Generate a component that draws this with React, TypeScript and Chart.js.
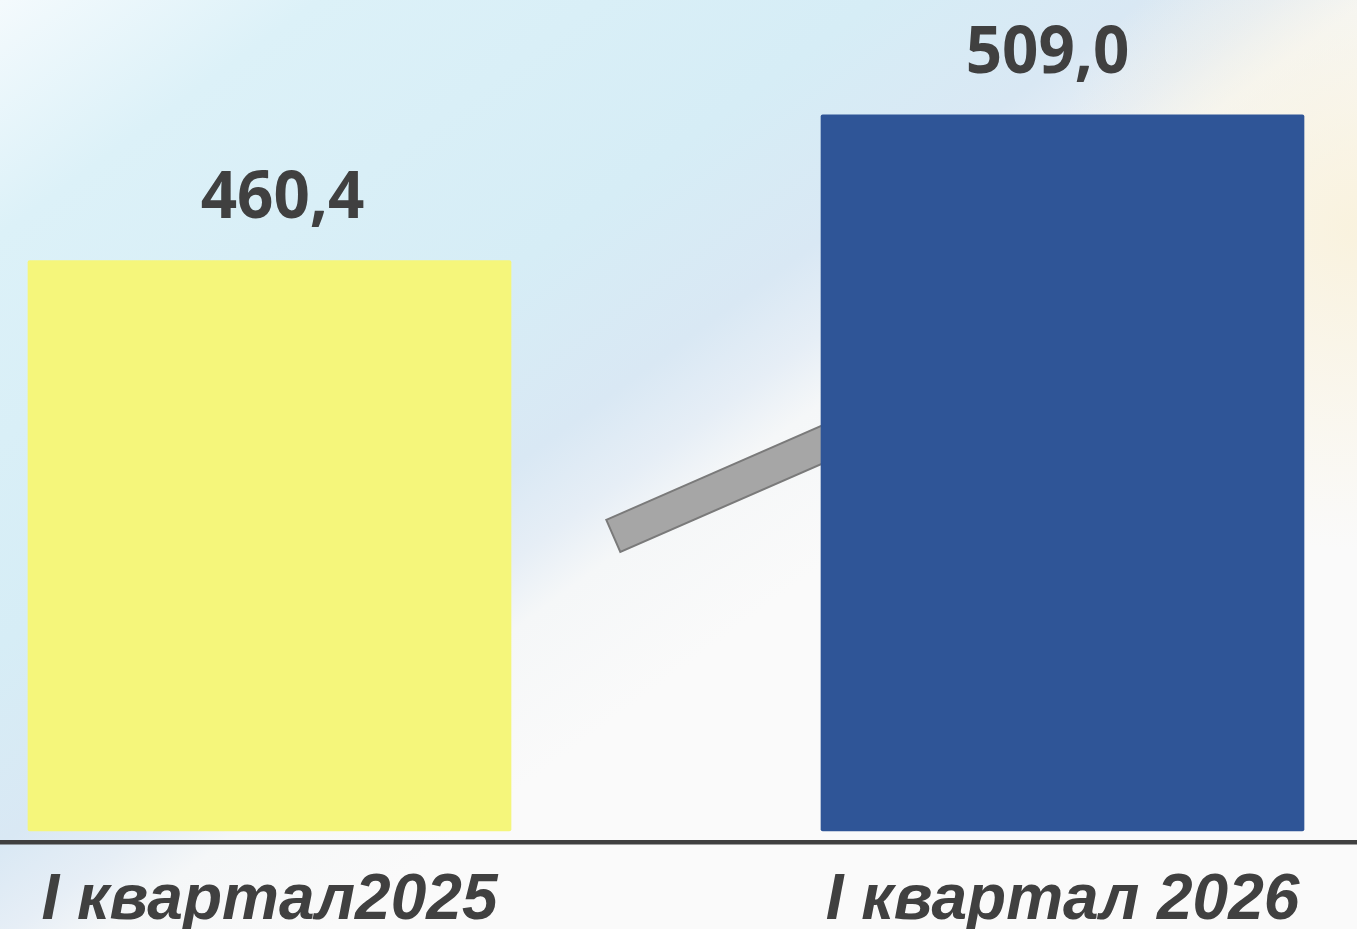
import React, { useEffect, useRef } from "react";
import { Chart, registerables } from "chart.js";

Chart.register(...registerables);

const categories = ["I квартал2025", "I квартал 2026"];
const values = [460.4, 509.0];
const valueLabels = ["460,4", "509,0"];
const barColors = ["#F5F67B", "#2F5597"];
const yMin = 270;
const yMax = 546;

export default function App() {
  const ref = useRef<HTMLCanvasElement | null>(null);

  useEffect(() => {
    document.body.style.margin = "0";
    const canvas = ref.current!;
    const labelShift = [13, -15];

    const decor = {
      id: "decor",
      beforeDraw(chart: any) {
        const { ctx, width, height } = chart;
        ctx.save();
        ctx.fillStyle = "#f9fafa";
        ctx.fillRect(0, 0, width, height);
        const g = ctx.createLinearGradient(0, 0, 560, 760);
        g.addColorStop(0, "#f4fafd");
        g.addColorStop(0.2, "#dcf1f8");
        g.addColorStop(0.55, "#d6edf6");
        g.addColorStop(0.72, "#d9e8f4");
        g.addColorStop(0.8, "#e6eef6");
        g.addColorStop(0.86, "#f5f7f8");
        g.addColorStop(1, "#fafafa");
        ctx.fillStyle = g;
        ctx.fillRect(0, 0, width, height);
        const r = ctx.createRadialGradient(1357, 230, 10, 1357, 230, 320);
        r.addColorStop(0, "rgba(249,241,218,0.85)");
        r.addColorStop(1, "rgba(249,241,218,0)");
        ctx.fillStyle = r;
        ctx.fillRect(0, 0, width, height);
        ctx.restore();
      },
      beforeDatasetsDraw(chart: any) {
        const { ctx } = chart;
        const meta = chart.getDatasetMeta(0);
        const b0 = meta.data[0] as any;
        const b1 = meta.data[1] as any;
        const left = b0.x + b0.width / 2;
        const right = b1.x - b1.width / 2;
        const sx = left + 0.33 * (right - left);
        const sy = chart.scales.y.getPixelForValue(368.5);
        const ang = (-23.6 * Math.PI) / 180;
        const dx = Math.cos(ang), dy = Math.sin(ang);
        const nx = -dy, ny = dx;
        const h = 17.5;
        const L = 400;
        ctx.save();
        ctx.beginPath();
        ctx.moveTo(sx - nx * h, sy - ny * h);
        ctx.lineTo(sx - nx * h + dx * L, sy - ny * h + dy * L);
        ctx.lineTo(sx + nx * h + dx * L, sy + ny * h + dy * L);
        ctx.lineTo(sx + nx * h, sy + ny * h);
        ctx.closePath();
        ctx.fillStyle = "#a6a6a6";
        ctx.fill();
        ctx.strokeStyle = "#7a7a7a";
        ctx.lineWidth = 2;
        ctx.stroke();
        ctx.restore();
      },
      afterDatasetsDraw(chart: any) {
        const { ctx, width, chartArea } = chart;
        const meta = chart.getDatasetMeta(0);
        ctx.save();
        ctx.fillStyle = "#404040";
        ctx.fillRect(0, chartArea.bottom + 9, width, 4.5);
        ctx.font = "bold 67px 'Open Sans'";
        ctx.textAlign = "center";
        ctx.textBaseline = "alphabetic";
        meta.data.forEach((bar: any, i: number) => {
          ctx.save();
          ctx.translate(bar.x + labelShift[i], bar.y - 42);
          ctx.scale(0.95, 1);
          ctx.fillText(valueLabels[i], 0, 0);
          ctx.restore();
        });
        ctx.restore();
      },
    };

    const chart = new Chart(canvas, {
      type: "bar",
      data: {
        labels: categories,
        datasets: [
          {
            data: values,
            base: yMin,
            backgroundColor: barColors,
            barThickness: 483,
            borderRadius: 2,
            borderSkipped: false,
            clip: false as any,
          } as any,
        ],
      },
      options: {
        animation: false,
        responsive: false,
        layout: { padding: { top: 4, left: 269.5, right: 294.5, bottom: 0 } },
        plugins: { legend: { display: false }, tooltip: { enabled: false } },
        scales: {
          x: {
            offset: false,
            grid: { display: false, drawTicks: false },
            border: { display: false },
            ticks: {
              color: "#404040",
              padding: 32,
              maxRotation: 0,
              autoSkip: false,
              font: {
                family: "'Liberation Sans', Arial, sans-serif",
                size: 64,
                weight: "bold",
                style: "italic",
              },
            },
            afterFit: (s: any) => {
              s.height = 98;
            },
          },
          y: { display: false, min: yMin, max: yMax },
        },
      },
      plugins: [decor],
    });

    return () => chart.destroy();
  }, []);

  return (
    <div style={{ position: "absolute", left: 0, top: 0, width: 1357, height: 929 }}>
      <canvas ref={ref} width={1357} height={929} style={{ display: "block" }} />
    </div>
  );
}
